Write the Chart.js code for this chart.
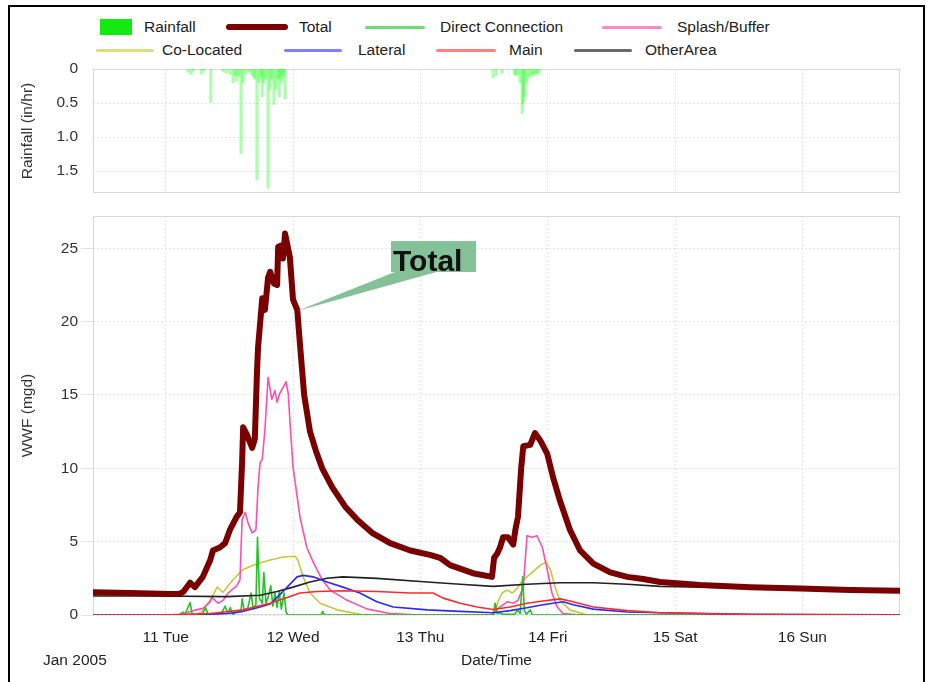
<!DOCTYPE html>
<html><head><meta charset="utf-8">
<script src="https://cdn.jsdelivr.net/npm/chart.js@4"></script>
<style>
html,body{margin:0;padding:0;background:#fff;}
body{width:934px;height:682px;position:relative;overflow:hidden;font-family:"Liberation Sans",Arial,sans-serif;}
#frame{position:absolute;left:8px;top:5px;width:917px;height:720px;border:2px solid #000;box-sizing:border-box;pointer-events:none;z-index:5}
#topWrap{position:absolute;left:0;top:58px;width:934px;height:150px}
#botWrap{position:absolute;left:0;top:205px;width:934px;height:477px}
.lt{position:absolute;font-size:15.5px;color:#222;line-height:18px;white-space:nowrap}
.sw{position:absolute}
#jan{position:absolute;left:43px;top:651px;font-size:15.5px;color:#222;line-height:18px}
</style></head>
<body>
<div id="frame"></div>
<div id="legend"></div>
<div id="topWrap"><canvas id="rain" width="934" height="150"></canvas></div>
<div id="botWrap"><canvas id="wwf" width="934" height="477"></canvas></div>
<div id="jan">Jan 2005</div>
<script>
// ---- data (x = hours after 00:00 Tue 11 Jan 2005) ----
const dayTicks = [0, 24, 48, 72, 96, 120];
const dayLabels = ['11 Tue', '12 Wed', '13 Thu', '14 Fri', '15 Sat', '16 Sun'];
const rainTicks = [0, 0.5, 1.0, 1.5];
const wwfTicks = [0, 5, 10, 15, 20, 25];

const rainT = [4.2, 4.8, 5.3, 6.7, 7.2, 8.5, 10.8, 11.4, 12.1, 12.7, 13.1, 13.4, 13.8, 14.2, 14.6, 15.1, 15.7, 16.1, 16.5, 16.8, 17.2, 17.6, 18.0, 18.2, 18.5, 18.9, 19.3, 19.7, 20.0, 20.4, 20.8, 21.2, 21.4, 21.7, 21.9, 22.3, 22.5, 61.7, 62.3, 63.4, 65.7, 66.0, 66.4, 66.8, 67.2, 67.4, 67.7, 68.1, 68.5, 68.9, 69.3, 69.6, 70.0, 70.4];
const rainV = [0.05, 0.08, 0.03, 0.08, 0.03, 0.49, 0.04, 0.06, 0.08, 0.2, 0.1, 0.18, 0.1, 1.24, 0.2, 0.06, 0.04, 0.08, 0.12, 0.15, 1.63, 0.2, 0.12, 0.41, 0.2, 0.15, 1.75, 0.3, 0.15, 0.52, 0.3, 0.15, 0.41, 0.12, 0.2, 0.1, 0.44, 0.13, 0.1, 0.06, 0.08, 0.1, 0.09, 0.2, 0.65, 0.5, 0.41, 0.2, 0.12, 0.09, 0.1, 0.07, 0.08, 0.06];

const totalT = [-13.7, -6.7, 0.8, 2.7, 3.3, 4.6, 5.5, 7.0, 8.4, 8.9, 10.2, 11.2, 12.1, 13.4, 14.0, 14.4, 14.6, 15.3, 16.3, 16.8, 17.2, 17.4, 18.2, 18.7, 19.3, 19.7, 20.4, 21.0, 21.2, 21.9, 22.1, 22.5, 23.4, 24.0, 24.8, 25.3, 26.1, 27.2, 28.3, 29.5, 31.4, 33.8, 36.1, 38.9, 42.3, 46.1, 49.8, 51.7, 53.6, 57.9, 61.5, 61.9, 62.5, 63.0, 63.6, 64.5, 65.5, 65.9, 66.4, 67.0, 67.4, 68.7, 69.6, 70.6, 71.9, 73.0, 74.3, 76.2, 78.1, 80.6, 83.8, 87.0, 90.0, 93.2, 100.7, 110.2, 119.6, 129.0, 138.4];
const totalV = [1.55, 1.5, 1.43, 1.45, 1.57, 2.2, 1.9, 2.6, 3.75, 4.4, 4.6, 4.9, 5.8, 6.7, 7.0, 10.4, 12.8, 12.3, 11.4, 12.0, 16.5, 18.2, 21.6, 20.8, 23.0, 23.4, 22.6, 22.5, 25.1, 25.2, 24.3, 26.0, 24.4, 21.5, 20.8, 18.5, 15.0, 12.5, 11.2, 10.0, 8.7, 7.4, 6.5, 5.6, 4.9, 4.4, 4.1, 3.9, 3.4, 2.85, 2.6, 3.9, 4.2, 4.6, 5.3, 5.3, 4.8, 5.8, 6.7, 10.0, 11.5, 11.6, 12.4, 11.9, 11.0, 9.4, 7.8, 5.8, 4.4, 3.5, 2.9, 2.6, 2.45, 2.25, 2.05, 1.9, 1.8, 1.7, 1.65];

const directT = [-13.7, 2.5, 3.3, 3.6, 4.6, 5.0, 5.5, 7.0, 7.5, 8.0, 10.5, 11.2, 11.7, 12.2, 12.6, 14.2, 14.4, 14.8, 15.5, 16.1, 16.5, 17.0, 17.3, 17.7, 18.2, 18.5, 18.9, 19.3, 19.8, 20.2, 20.6, 21.0, 21.4, 21.8, 22.3, 22.7, 23.0, 29.3, 29.6, 29.9, 61.7, 62.1, 62.5, 63.0, 63.5, 65.8, 66.3, 66.8, 67.3, 67.6, 68.0, 68.7, 69.1, 138.4];
const directV = [0, 0, 0.2, 0, 0.85, 0.05, 0, 0.1, 0.5, 0.05, 0.1, 0.6, 0.1, 0.5, 0.05, 0.3, 1.1, 0.3, 0.5, 1.5, 0.4, 0.7, 5.3, 1.1, 0.8, 2.9, 0.8, 1.2, 2.0, 0.6, 1.5, 0.5, 1.6, 0.4, 1.5, 0.2, 0, 0, 0.25, 0, 0, 0.8, 0.1, 0.15, 0.05, 0.05, 0.35, 0.1, 2.6, 0.3, 0.05, 0.35, 0, 0];

const splashT = [-13.7, 2.7, 5.2, 7.0, 8.4, 8.7, 9.9, 10.8, 11.8, 13.4, 14.0, 14.4, 15.0, 15.5, 16.3, 17.0, 17.4, 17.8, 18.2, 18.7, 19.3, 20.0, 20.6, 21.0, 21.5, 22.7, 23.1, 23.4, 24.0, 25.3, 26.6, 27.8, 29.5, 31.0, 34.2, 38.0, 42.3, 48.0, 61.3, 61.7, 63.0, 64.4, 65.5, 66.4, 67.4, 68.1, 69.1, 70.0, 71.0, 71.9, 72.8, 73.8, 74.9, 78.1, 138.4];
const splashV = [0, 0, 0.3, 0.45, 0.9, 1.2, 0.8, 1.0, 1.5, 2.0, 2.4, 6.5, 7.0, 6.3, 5.6, 5.8, 8.7, 10.4, 10.6, 12.6, 16.2, 14.7, 15.3, 14.5, 15.1, 15.9, 15.1, 13.3, 10.1, 6.7, 4.6, 3.6, 2.4, 1.7, 1.0, 0.4, 0.1, 0, 0, 0.1, 0.55, 0.9, 0.8, 1.0, 1.9, 5.4, 5.3, 5.4, 4.6, 3.1, 1.5, 0.55, 0.1, 0, 0];

const coLocT = [-13.7, 5.5, 6.8, 8.4, 9.7, 10.8, 12.7, 14.6, 17.2, 19.7, 22.1, 24.4, 24.9, 25.9, 27.2, 29.1, 32.3, 36.6, 40.4, 61.9, 62.5, 63.4, 64.4, 65.3, 66.2, 67.4, 69.1, 70.6, 71.7, 72.5, 73.4, 74.3, 76.2, 79.4, 138.4];
const coLocV = [0, 0, 0.2, 1.0, 1.9, 1.55, 2.4, 3.1, 3.5, 3.75, 3.95, 4.0, 3.75, 2.6, 1.5, 0.8, 0.35, 0.05, 0, 0, 0.8, 1.5, 1.7, 1.5, 1.8, 2.4, 2.9, 3.4, 3.6, 3.1, 1.9, 1.0, 0.35, 0, 0];

const lateralT = [-13.7, 6.5, 11.6, 14.6, 17.8, 19.7, 21.0, 22.9, 24.75, 25.9, 27.8, 30.4, 33.4, 36.6, 39.8, 42.9, 49.3, 55.5, 61.7, 64.9, 68.1, 71.1, 74.9, 76.8, 80.6, 87.0, 93.2, 110.2, 138.4];
const lateralV = [0, 0.02, 0.1, 0.25, 0.55, 0.75, 1.2, 1.9, 2.6, 2.7, 2.6, 2.25, 1.9, 1.5, 0.9, 0.55, 0.35, 0.25, 0.15, 0.3, 0.5, 0.7, 0.9, 0.7, 0.4, 0.2, 0.15, 0.05, 0.02];

const mainT = [-13.7, -1.1, 8.4, 14.6, 19.7, 22.9, 25.3, 28.5, 33.4, 39.8, 46.1, 50.4, 52.3, 55.5, 58.7, 61.7, 64.9, 68.1, 71.1, 74.3, 76.2, 80.6, 87.0, 93.2, 110.2, 138.4];
const mainV = [0, 0, 0.1, 0.35, 0.8, 1.2, 1.5, 1.6, 1.65, 1.6, 1.5, 1.5, 1.15, 0.8, 0.55, 0.38, 0.55, 0.8, 0.95, 1.1, 0.95, 0.55, 0.3, 0.15, 0.03, 0];

const otherT = [-13.7, -1.1, 11.6, 17.8, 21.0, 24.0, 27.2, 30.4, 33.4, 39.8, 49.3, 55.5, 61.7, 68.1, 74.3, 80.6, 87.0, 93.2, 110.2, 119.6, 138.4];
const otherV = [1.3, 1.3, 1.25, 1.35, 1.6, 1.9, 2.25, 2.5, 2.6, 2.5, 2.25, 2.1, 1.95, 2.1, 2.2, 2.2, 2.1, 1.95, 1.85, 1.8, 1.62];

// callout "Total": pointer tip, box corners, wedge base (data units)
const calloutText = 'Total';
const calloutTip = [24.75, 20.72];
const calloutBox = [42.47, 58.5, 25.49, 23.38];
const calloutBase = [43.2, 51.0];

const X_MIN = -13.7, X_MAX = 138.4;

// ---- legend (HTML) ----
const legendItems = [
  {t:'Rainfall', box:true, c:'#12ea12', l:100, w:32, tx:144, row:0},
  {t:'Total', c:'#7a0000', h:6, l:226, w:62, tx:299, row:0},
  {t:'Direct Connection', c:'#6edc6e', h:3, l:365, w:60, tx:440, row:0},
  {t:'Splash/Buffer', c:'#ff88c8', h:3, l:602, w:60, tx:677, row:0},
  {t:'Co-Located', c:'#dcdc80', h:3, l:96, w:58, tx:162, row:1},
  {t:'Lateral', c:'#8080ff', h:3, l:284, w:58, tx:358, row:1},
  {t:'Main', c:'#ff8080', h:3, l:436, w:60, tx:509, row:1},
  {t:'OtherArea', c:'#6a6a6a', h:3, l:574, w:58, tx:645, row:1}
];
const legEl = document.getElementById('legend');
legendItems.forEach(it => {
  const cy = it.row === 0 ? 27 : 50;
  const sw = document.createElement('div');
  sw.className = 'sw';
  const h = it.box ? 16 : it.h;
  sw.style.cssText = `left:${it.l}px;top:${cy - h/2}px;width:${it.w}px;height:${h}px;background:${it.c};` + (it.box ? '' : `border-radius:${h/2}px;`);
  legEl.appendChild(sw);
  const tx = document.createElement('div');
  tx.className = 'lt';
  tx.style.left = it.tx + 'px';
  tx.style.top = (cy - 9) + 'px';
  tx.textContent = it.t;
  legEl.appendChild(tx);
});

// ---- charts ----
Chart.defaults.font.family = '"Liberation Sans", Arial, sans-serif';
Chart.defaults.font.size = 15.5;
Chart.defaults.color = '#333';

const pts = (t, v) => t.map((x, i) => ({x, y: v[i]}));

const plotFrame = {
  id: 'plotFrame',
  beforeDatasetsDraw(c) {
    const a = c.chartArea, ctx = c.ctx;
    ctx.save();
    ctx.strokeStyle = '#d8d8d8';
    ctx.lineWidth = 1;
    ctx.strokeRect(a.left + 0.5, a.top + 0.5, a.right - a.left - 1, a.bottom - a.top - 1);
    ctx.restore();
  }
};

const gridStyle = {color: '#e4e4e4', lineWidth: 1};
const fitX = h => s => { s.height = h; s.paddingLeft = 0; s.paddingRight = 0; };
const fitY = s => { s.width = 93; s.paddingTop = 0; s.paddingBottom = 0; };

new Chart(document.getElementById('rain'), {
  type: 'bar',
  data: {datasets: [{
    label: 'Rainfall',
    data: pts(rainT, rainV),
    backgroundColor: 'rgba(0,255,0,0.33)',
    borderWidth: 0,
    barThickness: 2.5
  }]},
  options: {
    responsive: false, animation: false, devicePixelRatio: 1,
    layout: {padding: {top: 11, right: 34, left: 0, bottom: 0}},
    plugins: {legend: {display: false}, tooltip: {enabled: false}},
    scales: {
      x: {
        type: 'linear', min: X_MIN, max: X_MAX, offset: false,
        grid: {...gridStyle, drawTicks: false, offset: false},
        border: {display: false, dash: [2, 2]},
        ticks: {display: false},
        afterBuildTicks: s => { s.ticks = dayTicks.map(v => ({value: v})); },
        afterFit: fitX(15)
      },
      y: {
        reverse: true, min: 0, max: 1.82,
        grid: {...gridStyle, drawTicks: true, tickLength: 12, tickColor: 'rgba(0,0,0,0)'},
        border: {display: false, dash: [2, 2]},
        ticks: {padding: 3, callback: v => v === 0 ? '0' : v.toFixed(1)},
        afterBuildTicks: s => { s.ticks = rainTicks.map(v => ({value: v})); },
        title: {display: true, text: 'Rainfall (in/hr)', color: '#333', font: {size: 15.5}, padding: {top: 18, bottom: 0}},
        afterFit: fitY
      }
    }
  },
  plugins: [plotFrame]
});

const callout = {
  id: 'callout',
  afterDatasetsDraw(c) {
    const xs = c.scales.x, ys = c.scales.y, ctx = c.ctx;
    const bx1 = xs.getPixelForValue(calloutBox[0]), bx2 = xs.getPixelForValue(calloutBox[1]);
    const by1 = ys.getPixelForValue(calloutBox[2]), by2 = ys.getPixelForValue(calloutBox[3]);
    const tx = xs.getPixelForValue(calloutTip[0]), ty = ys.getPixelForValue(calloutTip[1]);
    const w1 = xs.getPixelForValue(calloutBase[0]), w2 = xs.getPixelForValue(calloutBase[1]);
    ctx.save();
    ctx.fillStyle = 'rgb(132,192,152)';
    ctx.beginPath();
    ctx.moveTo(tx, ty);
    ctx.lineTo(w1, by2);
    ctx.lineTo(w2, by2);
    ctx.closePath();
    ctx.fill();
    ctx.fillRect(bx1, by1, bx2 - bx1, by2 - by1);
    ctx.fillStyle = '#111';
    ctx.font = 'bold 30px "Liberation Sans", Arial, sans-serif';
    ctx.textBaseline = 'alphabetic';
    ctx.fillText(calloutText, bx1 + 2, by2 - 1);
    ctx.restore();
  }
};

const line = (label, t, v, color, width) => ({
  label, data: pts(t, v), borderColor: color, backgroundColor: color,
  borderWidth: width, pointRadius: 0, tension: 0, fill: false,
  borderJoinStyle: 'round', borderCapStyle: 'round'
});

new Chart(document.getElementById('wwf'), {
  type: 'line',
  data: {datasets: [
    line('Total', totalT, totalV, '#7a0000', 6),
    line('Main', mainT, mainV, '#ff2a2a', 1.6),
    line('Lateral', lateralT, lateralV, '#2a2aff', 1.6),
    line('OtherArea', otherT, otherV, '#222222', 1.6),
    line('Direct Connection', directT, directV, '#22c322', 1.6),
    line('Splash/Buffer', splashT, splashV, '#ff4fb0', 1.6),
    line('Co-Located', coLocT, coLocV, '#c8c83a', 1.6)
  ]},
  options: {
    responsive: false, animation: false, devicePixelRatio: 1,
    layout: {padding: {top: 11, right: 34, left: 0, bottom: 0}},
    plugins: {legend: {display: false}, tooltip: {enabled: false}},
    scales: {
      x: {
        type: 'linear', min: X_MIN, max: X_MAX,
        grid: {...gridStyle, drawTicks: false},
        border: {display: false, dash: [2, 2]},
        ticks: {padding: 13, autoSkip: false, maxRotation: 0, color: '#222',
                callback: v => dayLabels[dayTicks.indexOf(v)] ?? ''},
        afterBuildTicks: s => { s.ticks = dayTicks.map(v => ({value: v})); },
        title: {display: true, text: 'Date/Time', color: '#222', font: {size: 15.5}, padding: {top: 0, bottom: 12}},
        afterFit: fitX(67)
      },
      y: {
        min: 0, max: 27.2,
        grid: {...gridStyle, tickLength: 12},
        border: {display: false, dash: [2, 2]},
        ticks: {padding: 3},
        afterBuildTicks: s => { s.ticks = wwfTicks.map(v => ({value: v})); },
        title: {display: true, text: 'WWF (mgd)', color: '#333', font: {size: 15.5}, padding: {top: 18, bottom: 0}},
        afterFit: fitY
      }
    }
  },
  plugins: [plotFrame, callout]
});
</script>
</body></html>
